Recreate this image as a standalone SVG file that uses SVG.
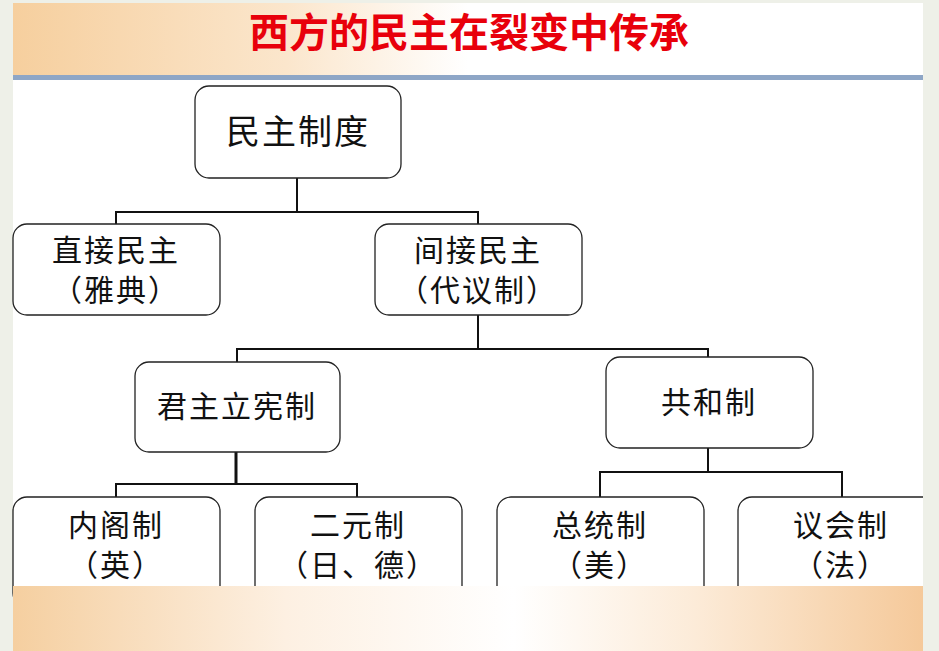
<svg xmlns="http://www.w3.org/2000/svg" width="939" height="651" viewBox="0 0 939 651">
<defs>
<linearGradient id="tb" x1="0" y1="0" x2="1" y2="0">
<stop offset="0" stop-color="#f6cf9e"/><stop offset="0.3" stop-color="#fbe6cc"/><stop offset="0.5" stop-color="#fff"/><stop offset="1" stop-color="#fff"/>
</linearGradient>
<linearGradient id="bb" x1="0" y1="0" x2="1" y2="0">
<stop offset="0" stop-color="#f5cfa0"/><stop offset="0.3" stop-color="#fdf0e2"/><stop offset="0.55" stop-color="#fff"/><stop offset="0.75" stop-color="#fcebd8"/><stop offset="1" stop-color="#f5c99a"/>
</linearGradient>
<style>
.n rect{fill:#fff;stroke:#222;stroke-width:1.3}
.n text{font-family:"Liberation Sans","Noto Sans CJK SC",sans-serif;font-size:30px;fill:#111;text-anchor:middle;letter-spacing:2px}
.c path{fill:none;stroke:#111;stroke-width:2}
</style>
</defs>
<rect width="939" height="651" fill="#eef0e8"/>
<rect x="13" y="3" width="910" height="648" fill="#fff"/>
<rect x="13" y="3" width="910" height="75" fill="url(#tb)"/>
<rect x="13" y="75" width="910" height="5" fill="#8ea6c6"/>
<text x="469" y="47" font-family="'Noto Sans CJK SC',sans-serif" font-size="40" font-weight="bold" fill="#e8000b" text-anchor="middle">西方的民主在裂变中传承</text>
<g class="c">
<path d="M297 178V212M116 224V212H478V224"/>
<path d="M478 315V349M237 362V349H708V357"/>
<path d="M236 452V484" style="stroke-width:3"/>
<path d="M116 497V484H357V497"/>
<path d="M708 448V472M600 497V472H842V497"/>
</g>
<g class="n" id="n1"><rect x="195" y="86" width="206" height="92" rx="14"/><text x="298" y="144" style="font-size:34px">民主制度</text></g>
<g class="n" id="n2"><rect x="13" y="224" width="207" height="91" rx="14"/><text x="116" y="261">直接民主</text><text x="116" y="301">（雅典）</text></g>
<g class="n" id="n3"><rect x="375" y="224" width="207" height="91" rx="14"/><text x="478" y="261">间接民主</text><text x="478" y="301">（代议制）</text></g>
<g class="n" id="n4"><rect x="135" y="362" width="205" height="90" rx="14"/><text x="237" y="417">君主立宪制</text></g>
<g class="n" id="n5"><rect x="606" y="357" width="207" height="91" rx="14"/><text x="709" y="413">共和制</text></g>
<g class="n" id="n6"><rect x="13" y="497" width="207" height="110" rx="14"/><text x="116" y="536">内阁制</text><text x="116" y="576">（英）</text></g>
<g class="n" id="n7"><rect x="255" y="497" width="207" height="110" rx="14"/><text x="358" y="536">二元制</text><text x="358" y="576">（日、德）</text></g>
<g class="n" id="n8"><rect x="497" y="497" width="207" height="110" rx="14"/><text x="600" y="536">总统制</text><text x="600" y="576">（美）</text></g>
<g class="n" id="n9"><rect x="738" y="497" width="207" height="110" rx="14"/><text x="841" y="536">议会制</text><text x="841" y="576">（法）</text></g>
<rect x="13" y="586" width="910" height="65" fill="url(#bb)"/>
<rect x="923" y="0" width="16" height="651" fill="#eef0e8"/>
</svg>
